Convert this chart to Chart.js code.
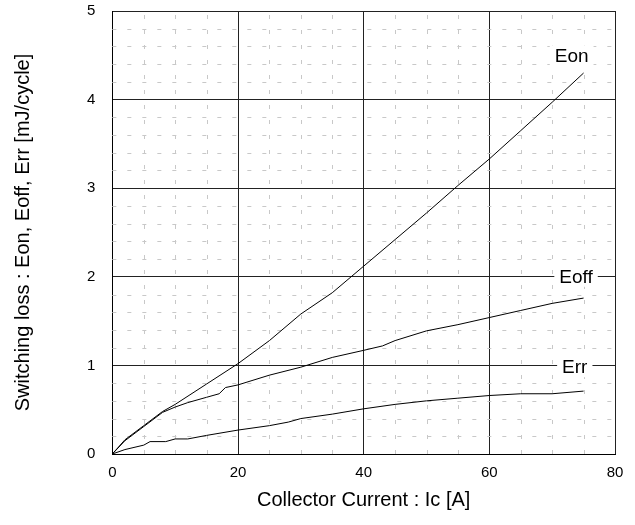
<!DOCTYPE html>
<html>
<head>
<meta charset="utf-8">
<script src="https://cdn.jsdelivr.net/npm/chart.js@4.4.0/dist/chart.umd.min.js"></script>
<style>
  html, body { margin: 0; padding: 0; background: #fff; }
  #wrap { width: 635px; height: 525px; }
</style>
</head>
<body>
<div id="wrap"><canvas id="lossChart" width="635" height="525"></canvas></div>
<script>
// values
const eonX = [0, 2, 5, 8, 10, 15, 20, 25, 30, 35, 40, 45, 50, 55, 60, 65, 70, 75];
const eonY = [0, 0.16, 0.32, 0.48, 0.56, 0.79, 1.02, 1.28, 1.58, 1.82, 2.12, 2.42, 2.72, 3.03, 3.33, 3.65, 3.97, 4.3];

const eoffX = [0, 2, 5, 8, 10, 12, 15, 17, 18, 20, 25, 30, 35, 40, 43, 45, 50, 55, 60, 65, 70, 75];
const eoffY = [0, 0.15, 0.31, 0.47, 0.53, 0.58, 0.64, 0.68, 0.75, 0.78, 0.89, 0.98, 1.09, 1.17, 1.22, 1.28, 1.39, 1.46, 1.54, 1.62, 1.70, 1.76];

const errX = [0, 2, 5, 6, 8.5, 10, 12, 15, 20, 25, 28, 30, 35, 40, 45, 50, 55, 60, 65, 70, 75];
const errY = [0, 0.05, 0.10, 0.14, 0.14, 0.17, 0.17, 0.21, 0.27, 0.32, 0.36, 0.40, 0.45, 0.51, 0.56, 0.60, 0.63, 0.66, 0.68, 0.68, 0.71];

const curveNames = ["Eon", "Eoff", "Err"];
const nameX = [73.1, 73.8, 73.6];
const nameY = [4.5, 2.0, 0.98];

const xTitle = "Collector Current : Ic [A]";
const yTitle = "Switching loss : Eon, Eoff, Err [mJ/cycle]";

const FONT = "'Liberation Sans', Arial, sans-serif";

function toPoints(xs, ys) {
  return xs.map((x, i) => ({ x: x, y: ys[i] }));
}

const lineStyle = {
  borderColor: "#000",
  borderWidth: 1,
  pointRadius: 0,
  tension: 0,
  fill: false,
  showLine: true,
};

// light dashed minor grid, every 5 A and every 0.2 mJ
const minorGrid = {
  id: "minorGrid",
  beforeDatasetsDraw(chart) {
    const { ctx, chartArea, scales } = chart;
    ctx.save();
    ctx.strokeStyle = "#c8c8c8";
    ctx.lineWidth = 1;
    ctx.setLineDash([4, 11]);
    for (let v = 5; v < 80; v += 5) {
      if (v % 20 === 0) continue;
      const px = Math.round(scales.x.getPixelForValue(v)) + 0.5;
      ctx.beginPath();
      ctx.moveTo(px, chartArea.bottom);
      ctx.lineTo(px, chartArea.top);
      ctx.stroke();
    }
    for (let k = 1; k < 25; k++) {
      if (k % 5 === 0) continue;
      const py = Math.round(scales.y.getPixelForValue(k * 0.2)) + 0.5;
      ctx.beginPath();
      ctx.moveTo(chartArea.left, py);
      ctx.lineTo(chartArea.right, py);
      ctx.stroke();
    }
    ctx.restore();
  },
};

// curve names with a white box behind them
const curveLabels = {
  id: "curveLabels",
  afterDatasetsDraw(chart) {
    const { ctx, scales } = chart;
    ctx.save();
    ctx.font = "19px " + FONT;
    ctx.textAlign = "center";
    ctx.textBaseline = "middle";
    for (let i = 0; i < curveNames.length; i++) {
      const px = scales.x.getPixelForValue(nameX[i]);
      const py = scales.y.getPixelForValue(nameY[i]);
      const w = ctx.measureText(curveNames[i]).width;
      ctx.fillStyle = "#fff";
      ctx.fillRect(px - w / 2 - 5, py - 10, w + 10, 20);
      ctx.fillStyle = "#000";
      ctx.fillText(curveNames[i], px, py + 1);
    }
    ctx.restore();
  },
};

new Chart(document.getElementById("lossChart").getContext("2d"), {
  type: "scatter",
  data: {
    datasets: [
      Object.assign({ label: "Eon", data: toPoints(eonX, eonY) }, lineStyle),
      Object.assign({ label: "Eoff", data: toPoints(eoffX, eoffY) }, lineStyle),
      Object.assign({ label: "Err", data: toPoints(errX, errY) }, lineStyle),
    ],
  },
  options: {
    responsive: false,
    animation: false,
    devicePixelRatio: 1,
    layout: {
      padding: { top: 0, right: 20, bottom: 4, left: 11 },
    },
    plugins: {
      legend: { display: false },
      tooltip: { enabled: false },
    },
    scales: {
      x: {
        type: "linear",
        min: 0,
        max: 80,
        ticks: {
          stepSize: 20,
          color: "#000",
          padding: 2,
          font: { size: 15, family: FONT },
        },
        grid: {
          color: "#222",
          lineWidth: 1,
          drawTicks: true,
          tickLength: 8,
          tickColor: "rgba(0,0,0,0)",
        },
        border: { color: "#000", width: 1 },
        title: {
          display: true,
          text: xTitle,
          color: "#000",
          padding: { top: 4, bottom: 9 },
          font: { size: 20, family: FONT },
        },
      },
      y: {
        type: "linear",
        min: 0,
        max: 5,
        ticks: {
          stepSize: 1,
          color: "#000",
          padding: 2,
          font: { size: 15, family: FONT },
        },
        grid: {
          color: "#222",
          lineWidth: 1,
          drawTicks: true,
          tickLength: 15,
          tickColor: "rgba(0,0,0,0)",
        },
        border: { color: "#000", width: 1 },
        title: {
          display: true,
          text: yTitle,
          color: "#000",
          padding: { top: 0, bottom: 50 },
          font: { size: 20, family: FONT },
        },
      },
    },
  },
  plugins: [minorGrid, curveLabels],
});
</script>
</body>
</html>
